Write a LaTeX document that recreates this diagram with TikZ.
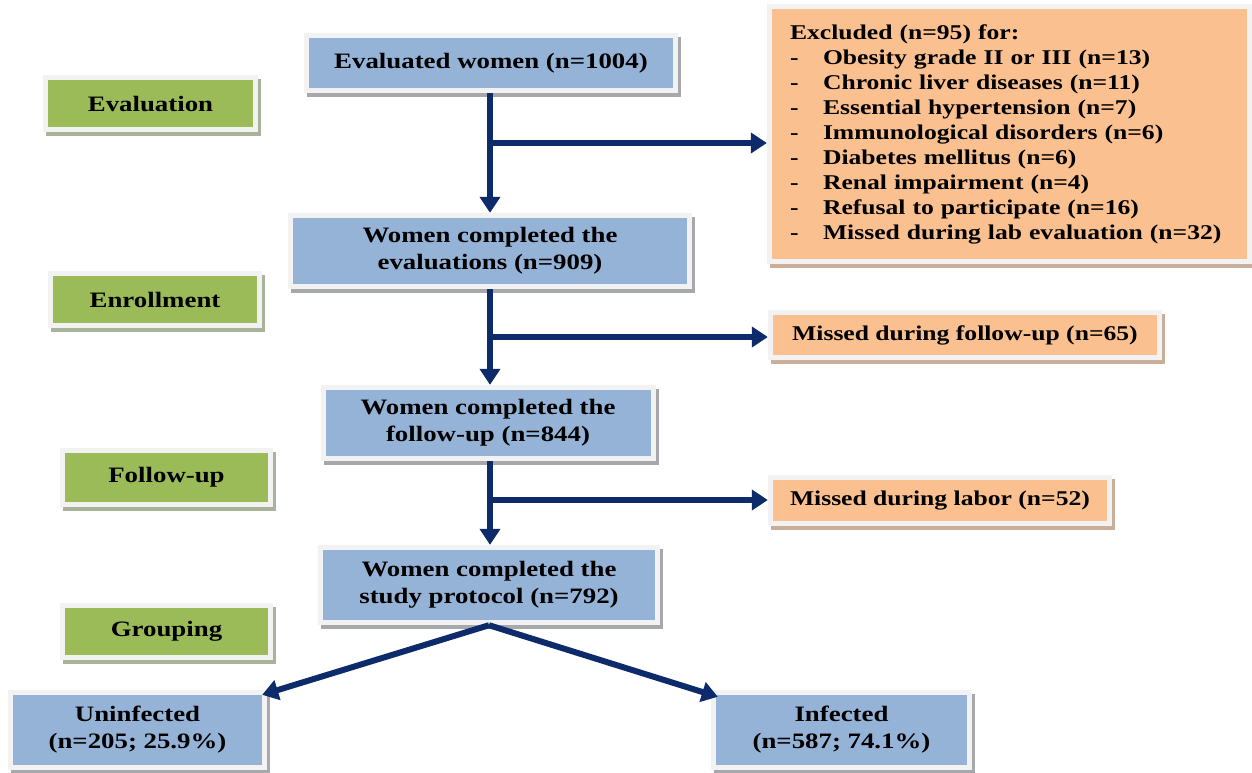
\documentclass[tikz,border=0pt]{standalone}
\usepackage{fontspec}
\setmainfont{Liberation Serif}[FakeStretch=1.22]
\usetikzlibrary{arrows.meta,shadows}
\definecolor{bluefill}{HTML}{95B3D7}
\definecolor{greenfill}{HTML}{9BBB59}
\definecolor{orangefill}{HTML}{FAC090}
\definecolor{framecol}{HTML}{F2F2F2}
\definecolor{arrowcol}{HTML}{0D2A6A}
\definecolor{bshadow}{HTML}{A6A8AC}
\definecolor{gshadow}{HTML}{A9B39A}
\definecolor{oshadow}{HTML}{C9AE98}
\tikzset{
  framebox/.style n args={2}{draw=none, fill=framecol, inner sep=0pt,
    drop shadow={shadow xshift=3pt, shadow yshift=-4pt, fill=#2, opacity=1},
    path picture={\fill[#1] ([xshift=5pt,yshift=5pt]path picture bounding box.south west)
      rectangle ([xshift=-5pt,yshift=-5pt]path picture bounding box.north east);},
    align=center, text=black, font=\bfseries\fontsize{22}{27}\selectfont},
  bbox/.style={framebox={bluefill}{bshadow}},
  gbox/.style={framebox={greenfill}{gshadow}},
  obox/.style={framebox={orangefill}{oshadow}, font=\bfseries\fontsize{21}{25}\selectfont},
  arr/.style={draw=arrowcol, line width=6pt, -{Triangle[length=16pt,width=20pt]}},
}
\begin{document}
\begin{tikzpicture}[x=1pt,y=-1pt]
\useasboundingbox (0,0) rectangle (1252,772);
\fill[white] (0,0) rectangle (1252,772);

% main column
\node[bbox, minimum width=374pt, minimum height=60pt] (eval) at (491,63) {Evaluated women (n=1004)};
\node[bbox, minimum width=404pt, minimum height=76pt] (compEval) at (490,251) {Women completed the\\evaluations (n=909)};
\node[bbox, minimum width=335pt, minimum height=76pt] (compFU) at (488,423) {Women completed the\\follow-up (n=844)};
\node[bbox, minimum width=342pt, minimum height=80pt] (compProt) at (489,585) {Women completed the\\study protocol (n=792)};
\node[bbox, minimum width=259pt, minimum height=80pt] (uninf) at (137.5,730) {Uninfected\\(n=205; 25.9\%)};
\node[bbox, minimum width=261pt, minimum height=80pt] (inf) at (841.5,730) {Infected\\(n=587; 74.1\%)};

% stage labels
\node[gbox, minimum width=215pt, minimum height=57pt] (evgreen) at (150.5,103.5) {Evaluation};
\node[gbox, minimum width=214pt, minimum height=57pt] (enroll) at (155,299.5) {Enrollment};
\node[gbox, minimum width=213pt, minimum height=59pt] (fugreen) at (166.5,477.5) {Follow-up};
\node[gbox, minimum width=213pt, minimum height=57pt] (group) at (166.5,631.5) {Grouping};

% exclusion boxes
\node[obox, minimum width=485pt, minimum height=260pt, text width=439pt, inner xsep=23pt, align=left] (exc) at (1009.5,134)
 {Excluded (n=95) for:\\
  \makebox[33pt][l]{-}Obesity grade II or III (n=13)\\
  \makebox[33pt][l]{-}Chronic liver diseases (n=11)\\
  \makebox[33pt][l]{-}Essential hypertension (n=7)\\
  \makebox[33pt][l]{-}Immunological disorders (n=6)\\
  \makebox[33pt][l]{-}Diabetes mellitus (n=6)\\
  \makebox[33pt][l]{-}Renal impairment (n=4)\\
  \makebox[33pt][l]{-}Refusal to participate (n=16)\\
  \makebox[33pt][l]{-}Missed during lab evaluation (n=32)};
\node[obox, minimum width=394pt, minimum height=50pt] (missFU) at (965,335) {Missed during follow-up (n=65)};
\node[obox, minimum width=344pt, minimum height=51pt] (missLab) at (940,500.5) {Missed during labor (n=52)};

% connectors
\coordinate (b1) at (490,143);
\coordinate (b2) at (490,337);
\coordinate (b3) at (490,500);
\draw[arr] (eval.south -| compEval.north) -- (compEval.north);
\draw[arr] (b1) -- (b1 -| exc.west);
\draw[arr] (compEval.south) -- (compEval.south |- compFU.north);
\draw[arr] (b2) -- (b2 -| missFU.west);
\draw[arr] (compEval.south |- compFU.south) -- (compEval.south |- compProt.north);
\draw[arr] (b3) -- (b3 -| missLab.west);
\draw[arr] (compProt.south) -- ([xshift=-5pt,yshift=-5pt]uninf.north east);
\draw[arr] (compProt.south) -- ([xshift=7pt,yshift=-7pt]inf.north west);
\end{tikzpicture}
\end{document}
